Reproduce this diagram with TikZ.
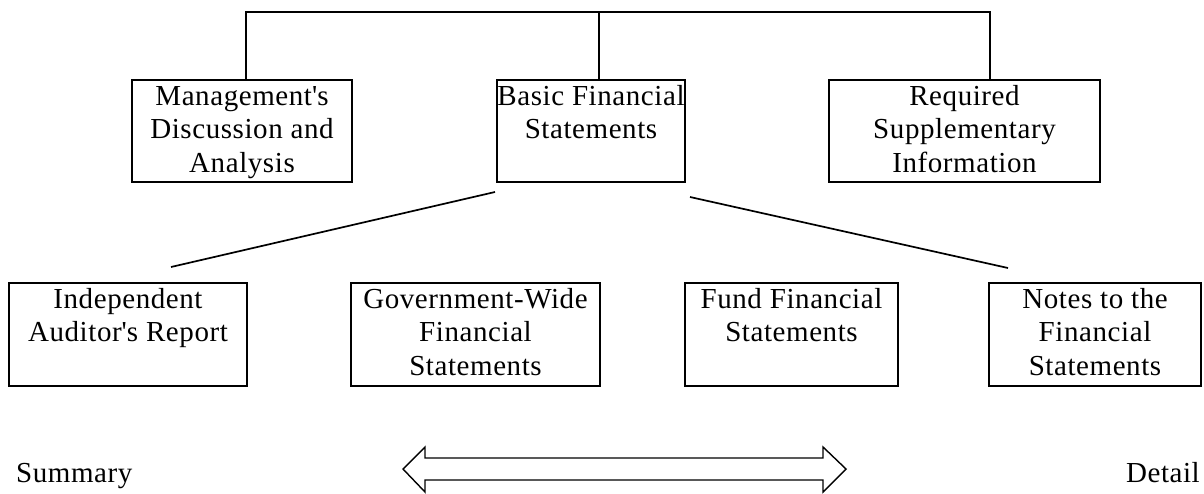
\documentclass[tikz,border=0pt]{standalone}
\usepackage{fontspec}
\setmainfont{Liberation Serif}[LetterSpace=2]
\usetikzlibrary{calc}
\newcommand{\boxtext}[3]{\parbox[t][#1pt][t]{#2pt}{\centering\rule{0pt}{25.5pt}#3}}
\tikzset{
  box/.style={draw, line width=2.5pt, inner sep=0pt, outer sep=0pt, anchor=north west,
              font=\fontsize{29}{33.3}\selectfont},
  conn/.style={line width=2.3pt, line join=miter},
  diag/.style={line width=1.7pt},
  plain/.style={inner sep=0pt, font=\fontsize{29}{33.3}\selectfont},
  dblarrow/.style={draw, line width=1.4pt, line join=miter, fill=white}
}
\begin{document}
\begin{tikzpicture}[x=1pt,y=-1pt]
\useasboundingbox (0,0) rectangle (1204,493);
% top row
\node[box] (mda) at (132,80) {\boxtext{102}{220}{Management\textquotesingle s\\Discussion and\\Analysis}};
\node[box] (bfs) at (497,80) {\boxtext{102}{188}{Basic Financial\\Statements}};
\node[box] (rsi) at (829,80) {\boxtext{102}{271}{Required\\Supplementary\\Information}};
% bottom row
\node[box] (iar) at (9,283) {\boxtext{103}{238}{Independent\\Auditor\textquotesingle s Report}};
\node[box] (gwfs) at (351,283) {\boxtext{103}{249}{Government-Wide\\Financial\\Statements}};
\node[box] (ffs) at (685,283) {\boxtext{103}{213}{Fund Financial\\Statements}};
\node[box] (nfs) at (989,283) {\boxtext{103}{212}{Notes to the\\Financial\\Statements}};
% top bracket
\coordinate (barL) at (246,12);
\coordinate (barM) at (599,12);
\coordinate (barR) at (990,12);
\draw[conn] (mda.north -| barL) -- (barL) -- (barR) -- (rsi.north -| barR);
\draw[conn] (barM) -- (bfs.north -| barM);
% diagonals
\coordinate (dl) at (171,267);
\coordinate (dr) at (1008,268);
\draw[diag] ($(bfs.south west)+(-2,10)$) -- (dl);
\draw[diag] ($(bfs.south east)+(5,15)$) -- (dr);
% bottom scale
\node[plain, anchor=base west] (sum) at (16,482) {Summary};
\node[plain, anchor=base east] (det) at (1200,482) {Detail};
\draw[dblarrow] (403,469) -- (425,447) -- (425,458) -- (823,458) -- (823,447) -- (846,469)
  -- (823,492) -- (823,480) -- (425,480) -- (425,492) -- cycle;
\end{tikzpicture}
\end{document}
